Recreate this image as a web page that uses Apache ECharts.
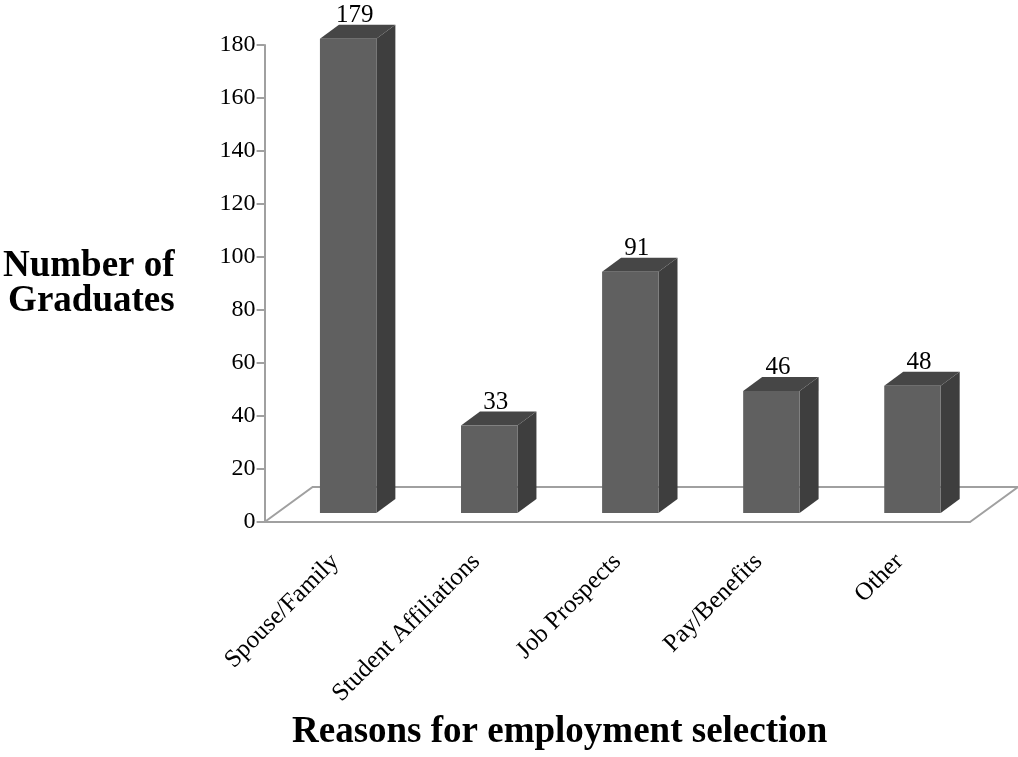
<!DOCTYPE html>
<html><head><meta charset="utf-8">
<script src="https://cdn.jsdelivr.net/npm/echarts@6/dist/echarts.min.js"></script>
<style>html,body{margin:0;padding:0;background:#fff;overflow:hidden}#c{width:1018px;height:757px}</style>
</head><body><div id="c"></div>
<script>
const categories = ['Spouse/Family', 'Student Affiliations', 'Job Prospects', 'Pay/Benefits', 'Other'];
const graduates = [179, 33, 91, 46, 48];
const yMin = 0, yMax = 180, yStep = 20;

const FLOOR_DX = 48, FLOOR_DY = -35;
const SHIFT_X = 13, SHIFT_Y = -9;
const BAR_DX = 19, BAR_DY = -14;
const FONT = '"Liberation Serif","Times New Roman",serif';
const AXIS_COLOR = '#a0a0a0';

const chart = echarts.init(document.getElementById('c'), null, { width: 1018, height: 757 });
chart.setOption({
  animation: false,
  backgroundColor: '#fff',
  title: {
    text: 'Reasons for employment selection', left: 287, top: 709,
    textStyle: { fontFamily: FONT, fontWeight: 'bold', fontSize: 37, color: '#000' }
  },
  grid: { left: 263, right: 48, top: 45, bottom: 235, containLabel: false },
  xAxis: {
    type: 'category', data: categories, boundaryGap: true,
    axisLine: { lineStyle: { color: AXIS_COLOR, width: 2 } },
    axisTick: { length: 8, lineStyle: { color: AXIS_COLOR, width: 2 } },
    axisLabel: { rotate: 45, margin: 36, color: '#000', fontFamily: FONT, fontSize: 25, interval: 0 }
  },
  yAxis: {
    type: 'value', min: yMin, max: yMax, interval: yStep,
    axisLine: { show: true, lineStyle: { color: AXIS_COLOR, width: 2 } },
    axisTick: { show: true, length: 8, lineStyle: { color: AXIS_COLOR, width: 2 } },
    splitLine: { show: false },
    axisLabel: { color: '#000', fontFamily: FONT, fontSize: 24, margin: 9 },
    name: 'Number of\nGraduates', nameLocation: 'middle', nameRotate: 0, nameGap: 90,
    nameTextStyle: { fontFamily: FONT, fontWeight: 'bold', fontSize: 37, color: '#000', lineHeight: 35, align: 'right', padding: [0, 0, 7, 0] }
  },
  series: [
    {
      type: 'custom', z: 1, silent: true,
      data: [[0, 0]],
      renderItem: function (params, api) {
        const cs = params.coordSys;
        const x0 = cs.x, x1 = cs.x + cs.width, y1 = cs.y + cs.height;
        return {
          type: 'polyline',
          shape: { points: [[x0, y1], [x0 + FLOOR_DX, y1 + FLOOR_DY], [x1 + FLOOR_DX, y1 + FLOOR_DY], [x1, y1]] },
          style: { stroke: AXIS_COLOR, lineWidth: 2, fill: null }
        };
      }
    },
    {
      type: 'custom', z: 3,
      data: graduates.map((v, i) => [i, v]),
      renderItem: function (params, api) {
        const top = api.coord([api.value(0), api.value(1)]);
        const base = api.coord([api.value(0), 0]);
        const w = api.size([1, 0])[0] * 0.4;
        const xl = top[0] + SHIFT_X - w / 2, xr = xl + w;
        const yt = top[1] + SHIFT_Y, yb = base[1] + SHIFT_Y;
        return {
          type: 'group', children: [
            { type: 'polygon', shape: { points: [[xr, yt], [xr + BAR_DX, yt + BAR_DY], [xr + BAR_DX, yb + BAR_DY], [xr, yb]] }, style: { fill: '#3e3e3e' } },
            { type: 'polygon', shape: { points: [[xl, yt], [xl + BAR_DX, yt + BAR_DY], [xr + BAR_DX, yt + BAR_DY], [xr, yt]] }, style: { fill: '#464646' } },
            { type: 'polygon', shape: { points: [[xl, yt], [xr, yt], [xr, yb], [xl, yb]] }, style: { fill: '#606060' } },
            { type: 'text', style: { text: String(api.value(1)), x: (xl + xr + BAR_DX) / 2 - 3, y: yt + BAR_DY + 3, align: 'center', verticalAlign: 'bottom', fontFamily: FONT, fontSize: 25, fill: '#000' } }
          ]
        };
      }
    }
  ]
});
</script>
</body></html>
